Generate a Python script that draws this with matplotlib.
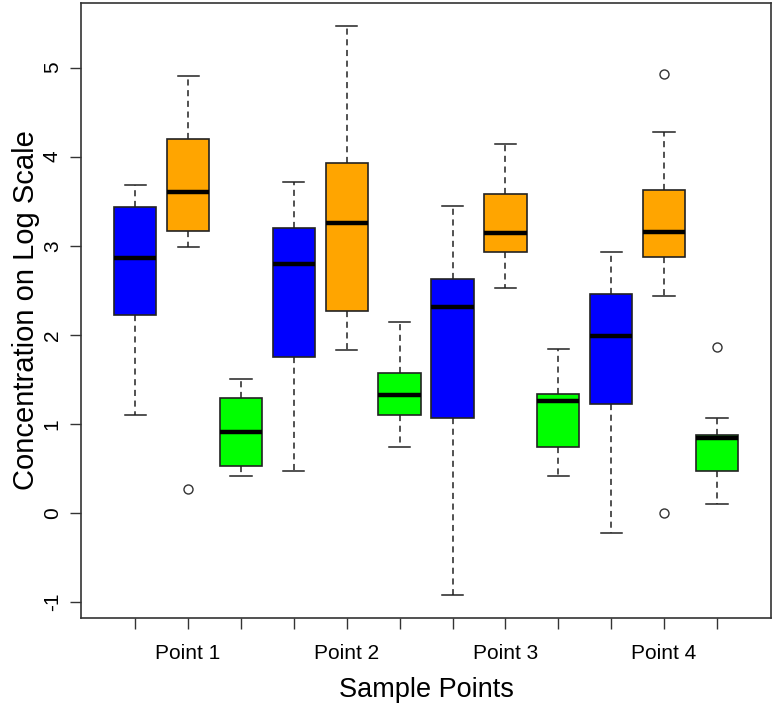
import matplotlib.pyplot as plt

plt.rcParams['font.family'] = ['Liberation Sans', 'DejaVu Sans']

# Valores (escala log), uma caixa por grupo: azul, laranja, verde em cada ponto
points = ["Point 1", "Point 2", "Point 3", "Point 4"]
box_colors = ["#0000FF", "#FFA500", "#00FF00"]

whislo = [1.10, 2.98, 0.42, 0.47, 1.83, 0.74, -0.92, 2.52, 0.42, -0.22, 2.44, 0.10]
q1     = [2.22, 3.17, 0.53, 1.75, 2.27, 1.10, 1.07, 2.93, 0.74, 1.22, 2.87, 0.47]
med    = [2.86, 3.60, 0.91, 2.80, 3.25, 1.32, 2.31, 3.14, 1.26, 1.99, 3.15, 0.84]
q3     = [3.43, 4.20, 1.285, 3.20, 3.93, 1.57, 2.63, 3.58, 1.34, 2.46, 3.62, 0.88]
whishi = [3.68, 4.91, 1.50, 3.71, 5.47, 2.14, 3.44, 4.14, 1.84, 2.93, 4.28, 1.07]
fliers = [[], [0.27], [], [], [], [], [], [], [], [], [4.93, 0.00], [1.86]]

stats = []
for i in range(len(med)):
    stats.append(dict(whislo=whislo[i], q1=q1[i], med=med[i], q3=q3[i],
                      whishi=whishi[i], fliers=fliers[i]))

fig = plt.figure(figsize=(7.74, 7.06), dpi=100)
ax = fig.add_axes([0.105, 0.125, 0.891, 0.871])

positions = list(range(1, len(stats) + 1))
bp = ax.bxp(stats, positions=positions, widths=0.8, capwidths=0.4,
            patch_artist=True,
            boxprops=dict(edgecolor="#222222", linewidth=1.2),
            whiskerprops=dict(color="#222222", linestyle=(0, (4, 3)), linewidth=1.1),
            capprops=dict(color="#222222", linewidth=1.1),
            medianprops=dict(color="black", linewidth=3.2, solid_capstyle="butt"),
            flierprops=dict(marker="o", markerfacecolor="none",
                            markeredgecolor="#333333", markersize=6.5, markeredgewidth=1))

for i, patch in enumerate(bp["boxes"]):
    patch.set_facecolor(box_colors[i % 3])

ax.set_xlim(-0.02, 13.02)
ax.set_ylim(-1.176, 5.726)

ax.set_xticks(positions)
ax.set_xticklabels(["", points[0], "", "", points[1], "", "", points[2], "", "", points[3], ""],
                   fontsize=15)
ax.set_yticks([-1, 0, 1, 2, 3, 4, 5])
ax.set_yticklabels(["-1", "0", "1", "2", "3", "4", "5"], fontsize=15,
                   rotation=90, va="center")
ax.tick_params(axis="both", direction="out", length=8, width=1, color="#333333")
ax.tick_params(axis="x", pad=11)
ax.tick_params(axis="y", pad=6)

for s in ax.spines.values():
    s.set_color("#333333")
    s.set_linewidth(1.2)

ax.set_xlabel("Sample Points", fontsize=19.5, labelpad=10)
ax.set_ylabel("Concentration on Log Scale", fontsize=21, labelpad=2)

fig.savefig("out.png", dpi=100)
